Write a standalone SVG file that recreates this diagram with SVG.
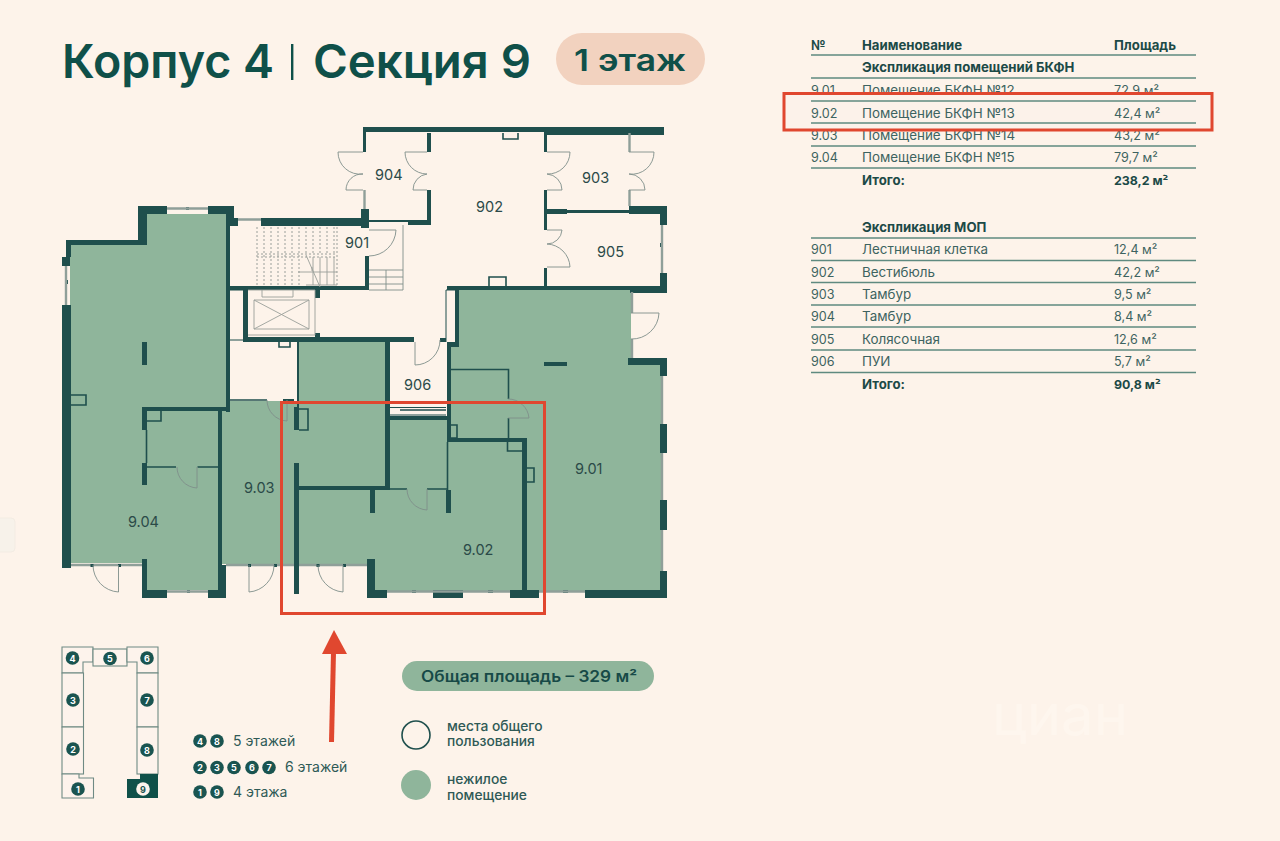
<svg xmlns="http://www.w3.org/2000/svg" width="1280" height="841" viewBox="0 0 1280 841">
<style>
text{font-family:"Inter","Noto Sans","Liberation Sans",sans-serif;fill:#2f5a56}
.title{font-size:47px;font-weight:600;fill:#0f5049}
.pilltext{font-size:30px;font-weight:600;fill:#0f5049}
.th{font-size:13.200px;font-weight:700;fill:#1c4a47}
.td{font-size:13.400px;font-weight:400;fill:#3d6360}
.num{font-size:12.600px;font-weight:400;fill:#3d6360}
.tot{font-size:12.400px;font-weight:700;fill:#1c4a47}
.rm{font-size:14.500px;fill:#2b4a48}
.leg{font-size:13.800px;font-weight:500;fill:#2f5a56}
.lv{font-size:14px;fill:#2f5a56}
.n{font-size:9px;font-weight:700;fill:#fff;text-anchor:middle}
.g{fill:#8fb59b}
.w{fill:#1f4f4d}
.tl{stroke:#5f8a80;stroke-width:1.3;fill:none}
.thin{stroke:#1f4f4d;stroke-width:1.6;fill:none}
.bl{stroke:#1f4f4d;stroke-width:1;fill:none}
.door{stroke:#7f8f8a;stroke-width:.9;fill:none}
.win{stroke:#8f9f99;stroke-width:2.400;fill:none}
.stair{stroke:#9a9f9a;stroke-width:.9;fill:none}
.dash{stroke:#9a9f9a;stroke-width:1;stroke-dasharray:2 2;fill:none}
.site{fill:#fdf3ec;stroke:#6f8a84;stroke-width:1.100}
.dot{fill:#1a5450}
</style>
<rect width="1280" height="841" fill="#fdf3ea"/>
<rect x="-8" y="518" width="23" height="34" rx="4" fill="#f7f2ea" stroke="#f3ece3"/>
<text x="992" y="735" style="font-size:56px;fill:#fef6ee" textLength="136" lengthAdjust="spacingAndGlyphs">циан</text>

<g id="header">
<text class="title" x="62" y="78" textLength="212" lengthAdjust="spacingAndGlyphs">Корпус 4</text>
<rect x="291" y="44" width="2.400" height="36" fill="#0f5049"/>
<text class="title" x="313" y="78" textLength="218" lengthAdjust="spacingAndGlyphs">Секция 9</text>
<rect x="556" y="33" width="149" height="52" rx="26" fill="#f2d2bf"/>
<text class="pilltext" x="574" y="71" textLength="112" lengthAdjust="spacingAndGlyphs">1 этаж</text>
</g>

<g id="plan-fill">
<polygon class="g" points="70,245 147,245 147,214 226,214 226,408 218,412 218,590 147,590 147,563 70,563"/>
<rect class="g" x="222" y="401" width="78" height="163"/>
<rect class="g" x="298" y="342" width="90" height="148"/>
<polygon class="g" points="299,488 375,488 390,488 390,419 447,419 447,440 522,440 522,591 375,591 375,564 299,564"/>
<polygon class="g" points="458,290 631,290 631,362 662,362 662,591 525,591 525,438 451,438 451,347 458,347"/>
</g>

<g id="plan-walls">
<path class="w" d="M138 206H167V214H147V245H71V257H66V240H138Z"/>
<path class="w" d="M208 206H234V218H238V226H226V214H208Z"/>
<rect class="w" x="138" y="206" width="9" height="34"/>
<rect class="w" x="186" y="207" width="3" height="3"/>
<rect class="w" x="62" y="257" width="8" height="9"/>
<rect class="w" x="62" y="305" width="9" height="263"/>
<rect class="w" x="65" y="280" width="3" height="4"/>
<rect class="w" x="226" y="214" width="4" height="198"/>
<rect class="w" x="142" y="407" width="88" height="4"/>
<rect class="w" x="218" y="410" width="4" height="188"/>
<rect class="w" x="142" y="342" width="5" height="23"/>
<rect class="w" x="142" y="407" width="5" height="23"/>
<rect class="w" x="142" y="463" width="5" height="22"/>
<rect class="w" x="142" y="559" width="5" height="39"/>
<rect class="w" x="142" y="590" width="25" height="8"/>
<rect class="w" x="208" y="590" width="18" height="8"/>
<rect class="w" x="187" y="590" width="3" height="3"/>
<rect class="w" x="218" y="565" width="8" height="33"/>
<rect class="w" x="261" y="218" width="108" height="8"/>
<rect class="w" x="230" y="286" width="139" height="4"/>
<rect class="w" x="365" y="256" width="4" height="34"/>
<rect class="w" x="361" y="209" width="8" height="19"/>
<rect class="w" x="369" y="220" width="39" height="2"/>
<rect class="w" x="408" y="220" width="23" height="5"/>
<rect class="w" x="427" y="133" width="4" height="19"/>
<rect class="w" x="427" y="190" width="4" height="35"/>
<rect class="w" x="363" y="127" width="300" height="5"/>
<rect class="w" x="544" y="127" width="120" height="8"/>
<rect class="w" x="363" y="127" width="3" height="25"/>
<rect class="w" x="544" y="133" width="3" height="19"/>
<rect class="w" x="544" y="190" width="3" height="40"/>
<rect class="w" x="544" y="268" width="3" height="20"/>
<rect class="w" x="544" y="209" width="23" height="5"/>
<rect class="w" x="567" y="210" width="62" height="3"/>
<rect class="w" x="629" y="206" width="38" height="8"/>
<rect class="w" x="660" y="206" width="7" height="19"/>
<rect class="w" x="660" y="273" width="7" height="20"/>
<rect class="w" x="447" y="286" width="220" height="4"/>
<rect class="w" x="630" y="288" width="37" height="5"/>
<rect class="w" x="455" y="288" width="4" height="59"/>
<rect class="w" x="447" y="342" width="12" height="5"/>
<rect class="w" x="243" y="290" width="5" height="50"/>
<rect class="w" x="243" y="337" width="171" height="5"/>
<rect class="w" x="315" y="290" width="5" height="8"/>
<rect class="w" x="315" y="333" width="5" height="6"/>
<rect class="w" x="440" y="338" width="6" height="4"/>
<rect class="w" x="385" y="342" width="5" height="148"/>
<rect class="w" x="299" y="486" width="91" height="4"/>
<rect class="w" x="294" y="407" width="5" height="23"/>
<rect class="w" x="294" y="463" width="5" height="131"/>
<rect class="w" x="297" y="342" width="2" height="65"/>
<rect class="w" x="283" y="399" width="11" height="3"/>
<rect class="w" x="447" y="347" width="4" height="91"/>
<rect class="w" x="390" y="416" width="57" height="4"/>
<rect class="w" x="447" y="438" width="80" height="4"/>
<rect class="w" x="522" y="438" width="5" height="155"/>
<rect class="w" x="446" y="490" width="5" height="23"/>
<rect class="w" x="370" y="490" width="5" height="23"/>
<rect class="w" x="367" y="559" width="8" height="39"/>
<rect class="w" x="367" y="590" width="20" height="8"/>
<rect class="w" x="433" y="590" width="30" height="8"/>
<rect class="w" x="510" y="590" width="29" height="8"/>
<rect class="w" x="412" y="590" width="4" height="3"/>
<rect class="w" x="488" y="590" width="5" height="3"/>
<rect class="w" x="563" y="590" width="5" height="3"/>
<rect class="w" x="585" y="590" width="82" height="8"/>
<rect class="w" x="660" y="571" width="7" height="27"/>
<rect class="w" x="660" y="500" width="7" height="30"/>
<rect class="w" x="660" y="424" width="7" height="29"/>
<rect class="w" x="660" y="358" width="7" height="18"/>
<rect class="w" x="628" y="358" width="39" height="7"/>
<rect class="w" x="544" y="362" width="23" height="4"/>
<rect class="w" x="661" y="392" width="2" height="4"/>
<rect class="w" x="661" y="474" width="2" height="4"/>
<rect class="w" x="661" y="545" width="2" height="4"/>
<rect class="w" x="660" y="243" width="3" height="4"/>
</g>

<g id="plan-lines">
<path class="win" d="M167 208.500H208M238 219.500H261M66 266V305M364.500 190V209M629.500 133V152M629.500 190V206M662 225V273M632 292V313M632 339V358M662 376V424M662 453V500M662 530V571M539 591.500H585M387 591.500H510M167 591.500H208M71 565H142M226 565H294M299 565H367"/>
<path class="w" d="M90.500 564h3v3h-3zM118 564h3v3h-3zM248 564h3v3h-3zM274 564h3v3h-3zM316.500 564h3v3h-3zM343 564h3v3h-3z"/>
<path class="thin" d="M451 369.500H508.500V399M508.500 418V438M146.500 430V463M146.500 467H176M197.500 467H218M299 489H407M427 489H447M447.500 442V490M230 400H267M400 410H446"/>
<path class="bl" d="M390 407.500H446M390 415H446M446 290V342M455 290H446M230 340H243M230 290H243"/>
<path class="thin" d="M146 408H161V421H146M71 395H86V405H71M299 409H308V430H299M451 425H457V438H451M507.500 442V451H523M527 468H534V482H527M279 342V347H290V342M503 133V139H518V133M489 286V277H506V286"/>
<path class="door" d="M363 152H338A22 22 0 0 0 363 174A16 16 0 0 0 346 190H363M427 152H405A22 22 0 0 0 427 174A16 16 0 0 0 413 190H427M547 152H570A22 22 0 0 1 547 174A16 16 0 0 1 562 190H547M629 152H654A22 22 0 0 1 629 174A16 16 0 0 1 645 190H629M547 230H562A15 15 0 0 1 547 244A24 24 0 0 1 570 267H547M369 230H396A27 27 0 0 1 369 256M403 225V290M369 270H403M369 277H403M369 284H403M386 270V290M369 290H403M415 342V365A25 25 0 0 0 440 340M631 313H659A27 27 0 0 1 631 339M267 400A21 21 0 0 0 287 421V400M177 467A21 21 0 0 0 197 488V467M93 565A27 27 0 0 0 118.500 592V565M249 565V592A27 27 0 0 0 274 565M318 565A27 27 0 0 0 343 592V565M508 399A21 21 0 0 1 529 418H508M407 489A21 21 0 0 0 427 510V489"/>
<path class="stair" d="M248 290H315V335H248M262 290V297H293V290M254 300H309V329H254ZM254 300L309 329M309 300L254 329M306 255L320 287M312 267V271M298 272H337"/>
<path class="dash" d="M257 227V285M264 227V285M271 227V285M278 227V285M285 227V285M292 227V285M299 227V285M306 227V255M313 227V255M320 227V255M327 227V255M334 227V255M337 227V285M257 254H337M257 257H337"/>
<path class="stair" d="M313 257V285M320 257V285M327 257V285M334 257V285M306 285H337"/>
</g>

<g id="room-9.04"><text class="rm" x="128" y="527">9.04</text></g>
<g id="room-9.03"><text class="rm" x="244" y="493">9.03</text></g>
<g id="room-9.02"><text class="rm" x="463" y="555">9.02</text></g>
<g id="room-9.01"><text class="rm" x="575" y="474">9.01</text></g>
<g id="room-901"><text class="rm" x="345" y="248">901</text></g>
<g id="room-902"><text class="rm" x="476" y="212">902</text></g>
<g id="room-903"><text class="rm" x="582" y="183">903</text></g>
<g id="room-904"><text class="rm" x="375" y="180">904</text></g>
<g id="room-905"><text class="rm" x="597" y="257">905</text></g>
<g id="room-906"><text class="rm" x="404" y="390">906</text></g>

<g id="table-1">
<path class="tl" d="M811 55H1196M811 78H1196M811 101H1196M811 123H1196M811 146H1196M811 168H1196"/>
<text class="th" x="811" y="50">№</text><text class="th" x="862" y="50">Наименование</text><text class="th" x="1114" y="50">Площадь</text>
<text class="th" x="862" y="72">Экспликация помещений БКФН</text>
<text class="num" x="811" y="94.500">9.01</text><text class="td" x="862" y="94.500">Помещение БКФН №12</text><text class="num" x="1114" y="94.500">72,9 м²</text>
<text class="num" x="811" y="139.500">9.03</text><text class="td" x="862" y="139.500">Помещение БКФН №14</text><text class="num" x="1114" y="139.500">43,2 м²</text>
<text class="num" x="811" y="162">9.04</text><text class="td" x="862" y="162">Помещение БКФН №15</text><text class="num" x="1114" y="162">79,7 м²</text>
<text class="th" x="862" y="184.500">Итого:</text><text class="tot" x="1114" y="184.500">238,2 м²</text>
</g>
<g id="highlight-row">
<rect x="784" y="93.500" width="428" height="36.500" fill="#fcf2ea" stroke="#e0472f" stroke-width="3"/>
<path class="tl" d="M811 101H1196M811 123H1196"/>
<text class="num" x="811" y="117.500">9.02</text><text class="td" x="862" y="117.500">Помещение БКФН №13</text><text class="num" x="1114" y="117.500">42,4 м²</text>
</g>
<g id="table-2">
<path class="tl" d="M811 238H1196M811 260.500H1196M811 282.500H1196M811 305H1196M811 327H1196M811 350H1196M811 372.500H1196"/>
<text class="th" x="862" y="232">Экспликация МОП</text>
<text class="num" x="811" y="254">901</text><text class="td" x="862" y="254">Лестничная клетка</text><text class="num" x="1114" y="254">12,4 м²</text>
<text class="num" x="811" y="276.500">902</text><text class="td" x="862" y="276.500">Вестибюль</text><text class="num" x="1114" y="276.500">42,2 м²</text>
<text class="num" x="811" y="299">903</text><text class="td" x="862" y="299">Тамбур</text><text class="num" x="1114" y="299">9,5 м²</text>
<text class="num" x="811" y="321">904</text><text class="td" x="862" y="321">Тамбур</text><text class="num" x="1114" y="321">8,4 м²</text>
<text class="num" x="811" y="344">905</text><text class="td" x="862" y="344">Колясочная</text><text class="num" x="1114" y="344">12,6 м²</text>
<text class="num" x="811" y="366">906</text><text class="td" x="862" y="366">ПУИ</text><text class="num" x="1114" y="366">5,7 м²</text>
<text class="th" x="862" y="389">Итого:</text><text class="tot" x="1114" y="389">90,8 м²</text>
</g>

<g id="highlight-plan">
<rect x="281.500" y="402.500" width="263" height="211" fill="none" stroke="#e0472f" stroke-width="3"/>
<path d="M331.500 742L333.500 652" stroke="#e0472f" stroke-width="5" fill="none"/>
<polygon points="334,630 347,654 322,654" fill="#e0472f"/>
</g>

<g id="site-key">
<polygon class="site" points="62,647 93,647 93,662 83,662 83,673 62,673"/>
<rect class="site" x="93" y="649" width="34" height="17"/>
<polygon class="site" points="127,647 158,647 158,673 137,673 137,662 127,662"/>
<rect class="site" x="62" y="673" width="21.500" height="54"/>
<rect class="site" x="62" y="727" width="21.500" height="47"/>
<polygon class="site" points="62,774 79,774 79,778 93.500,778 93.500,798 62,798"/>
<rect class="site" x="137" y="673" width="21" height="54"/>
<rect class="site" x="137" y="727" width="21" height="47"/>
<polygon points="140,774 158,774 158,798 127,798 127,779 140,779" fill="#0f5049"/>
<g id="sec-4"><circle class="dot" cx="72.500" cy="658" r="6.800"/><text class="n" x="72.500" y="661.500">4</text></g>
<g id="sec-5"><circle class="dot" cx="110" cy="658.500" r="6.800"/><text class="n" x="110" y="662">5</text></g>
<g id="sec-6"><circle class="dot" cx="147" cy="658" r="6.800"/><text class="n" x="147" y="661.500">6</text></g>
<g id="sec-3"><circle class="dot" cx="73" cy="700" r="6.800"/><text class="n" x="73" y="703.500">3</text></g>
<g id="sec-7"><circle class="dot" cx="147" cy="700" r="6.800"/><text class="n" x="147" y="703.500">7</text></g>
<g id="sec-2"><circle class="dot" cx="73" cy="749" r="6.800"/><text class="n" x="73" y="752.500">2</text></g>
<g id="sec-8"><circle class="dot" cx="147" cy="750" r="6.800"/><text class="n" x="147" y="753.500">8</text></g>
<g id="sec-1"><circle class="dot" cx="78" cy="789" r="6.800"/><text class="n" x="78" y="792.500">1</text></g>
<g id="sec-9"><circle cx="143" cy="789" r="6.800" fill="#fdf3ec"/><text class="n" x="143" y="792.500" style="fill:#1a5450">9</text></g>
</g>

<g id="floors-key">
<circle class="dot" cx="200" cy="741" r="6.800"/><text class="n" x="200" y="744.500">4</text>
<circle class="dot" cx="217" cy="741" r="6.800"/><text class="n" x="217" y="744.500">8</text>
<text class="lv" x="233" y="746">5 этажей</text>
<circle class="dot" cx="200" cy="767.500" r="6.800"/><text class="n" x="200" y="771">2</text>
<circle class="dot" cx="217" cy="767.500" r="6.800"/><text class="n" x="217" y="771">3</text>
<circle class="dot" cx="234" cy="767.500" r="6.800"/><text class="n" x="234" y="771">5</text>
<circle class="dot" cx="252" cy="767.500" r="6.800"/><text class="n" x="252" y="771">6</text>
<circle class="dot" cx="269" cy="767.500" r="6.800"/><text class="n" x="269" y="771">7</text>
<text class="lv" x="285" y="772">6 этажей</text>
<circle class="dot" cx="200" cy="792" r="6.800"/><text class="n" x="200" y="795.500">1</text>
<circle class="dot" cx="217" cy="792" r="6.800"/><text class="n" x="217" y="795.500">9</text>
<text class="lv" x="233" y="797">4 этажа</text>
</g>

<g id="legend">
<rect x="402" y="661" width="252" height="30" rx="15" fill="#8fb59b"/>
<text x="421" y="682" style="font-size:15.500px;font-weight:600;fill:#174a47" textLength="216" lengthAdjust="spacingAndGlyphs">Общая площадь – 329 м²</text>
<circle cx="416" cy="735" r="14" fill="none" stroke="#1f4f4d" stroke-width="1.600"/>
<text class="leg" x="447" y="731">места общего</text>
<text class="leg" x="447" y="746">пользования</text>
<circle cx="416" cy="785" r="15" fill="#8fb59b"/>
<text class="leg" x="447" y="784">нежилое</text>
<text class="leg" x="447" y="800">помещение</text>
</g>
</svg>
